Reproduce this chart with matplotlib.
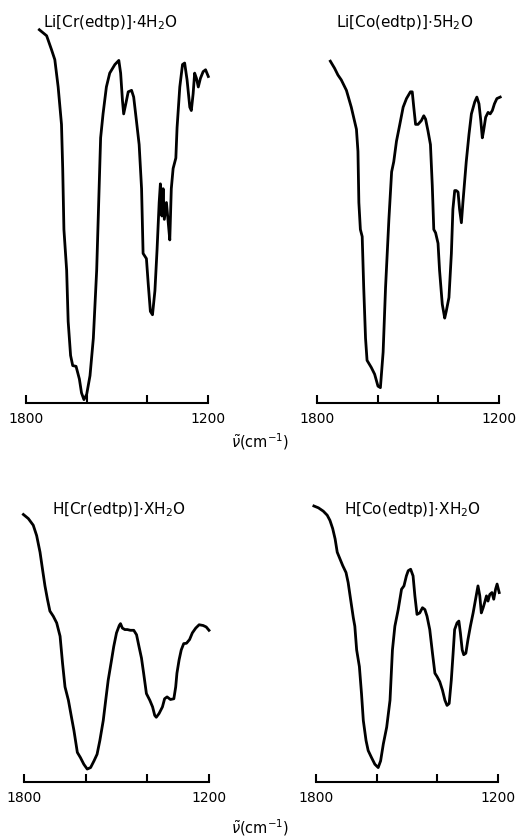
import matplotlib
matplotlib.use("Agg")
import matplotlib.pyplot as plt

# wavenumber (cm-1) and transmittance (arb. %)
li_cr_wn = [1756, 1732, 1716, 1705, 1694, 1683, 1679, 1675, 1666, 1661, 1653, 1646, 1635, 1624,
            1617, 1609, 1600, 1589, 1578, 1567, 1559, 1554, 1546, 1535, 1524, 1507, 1494, 1488,
            1482, 1478, 1471, 1463, 1452, 1445, 1436, 1427, 1419, 1414, 1403, 1397, 1390, 1383,
            1375, 1368, 1361, 1357, 1352, 1348, 1344, 1337, 1332, 1326, 1321, 1315, 1306, 1302,
            1293, 1284, 1277, 1269, 1260, 1255, 1249, 1244, 1238, 1232, 1225, 1216, 1208, 1199]
li_cr_t = [99.8, 98.2, 94.5, 91.8, 84.5, 74.5, 62.7, 46.4, 35.5, 21.8, 12.7, 10.0, 9.8, 6.4,
           2.7, 0.9, 2.3, 7.3, 17.3, 35.5, 57.3, 70.9, 77.3, 84.5, 88.2, 90.5, 91.6, 88.2,
           80.9, 77.3, 80.0, 83.2, 83.6, 81.8, 75.5, 69.1, 57.3, 40.0, 38.6, 31.8, 24.5, 23.6,
           30.0, 40.9, 53.6, 58.6, 50.0, 57.3, 49.1, 53.6, 49.1, 43.6, 57.3, 62.7, 65.5, 73.6,
           84.5, 90.5, 90.9, 86.4, 79.1, 78.2, 82.7, 88.2, 86.8, 84.5, 86.8, 88.6, 89.1, 87.3]

li_co_wn = [1756, 1742, 1731, 1720, 1703, 1687, 1670, 1665, 1662, 1657, 1651, 1646, 1640, 1635,
            1621, 1610, 1599, 1591, 1582, 1574, 1563, 1554, 1547, 1538, 1527, 1516, 1505, 1492,
            1486, 1481, 1475, 1467, 1456, 1448, 1442, 1434, 1426, 1420, 1415, 1409, 1401, 1396,
            1387, 1379, 1374, 1365, 1357, 1352, 1346, 1341, 1335, 1330, 1324, 1319, 1308, 1299,
            1291, 1280, 1273, 1266, 1260, 1255, 1251, 1244, 1236, 1229, 1222, 1215, 1207, 1196]
li_co_t = [91.4, 89.5, 87.7, 86.4, 83.6, 79.1, 73.2, 67.3, 53.6, 46.4, 44.5, 30.9, 17.3, 11.4,
           9.5, 7.7, 4.5, 4.1, 13.6, 30.9, 49.1, 61.8, 64.5, 70.0, 74.5, 79.1, 81.4, 83.2,
           83.2, 79.1, 74.5, 74.5, 75.5, 76.8, 75.9, 72.7, 69.1, 58.2, 46.4, 45.5, 42.7, 35.5,
           26.4, 22.7, 24.5, 28.2, 40.0, 51.8, 56.8, 56.8, 56.4, 51.8, 48.2, 53.6, 64.5, 71.8,
           77.3, 80.5, 81.8, 80.0, 75.5, 70.9, 72.7, 76.4, 77.7, 77.3, 78.2, 80.0, 81.4, 81.8]

h_cr_wn = [1802, 1786, 1770, 1759, 1748, 1740, 1732, 1724, 1716, 1705, 1694, 1683, 1675, 1667,
           1656, 1646, 1638, 1627, 1617, 1606, 1595, 1584, 1573, 1563, 1554, 1543, 1535, 1527,
           1516, 1509, 1500, 1491, 1487, 1481, 1473, 1465, 1455, 1444, 1435, 1427, 1419, 1412,
           1403, 1392, 1383, 1376, 1371, 1362, 1351, 1344, 1336, 1325, 1314, 1308, 1304, 1297,
           1290, 1282, 1273, 1263, 1254, 1243, 1232, 1219, 1209, 1200]
h_cr_t = [72.3, 71.2, 69.4, 66.6, 62.1, 57.5, 53.0, 49.4, 46.2, 44.8, 43.0, 39.4, 32.1, 25.7,
          22.1, 17.5, 13.9, 8.0, 6.6, 4.8, 3.5, 3.9, 5.7, 7.5, 11.2, 16.6, 22.1, 27.5,
          33.0, 36.6, 40.3, 42.3, 42.8, 41.6, 41.2, 41.2, 41.0, 41.0, 39.8, 36.6, 33.5, 29.4,
          23.9, 22.1, 20.3, 18.0, 17.5, 18.5, 20.3, 22.5, 23.0, 22.3, 22.5, 25.7, 29.4, 33.0,
          35.7, 37.4, 37.5, 38.5, 40.3, 41.6, 42.5, 42.3, 41.9, 41.0]

h_co_wn = [1807, 1792, 1776, 1763, 1754, 1745, 1737, 1730, 1721, 1712, 1701, 1694, 1686, 1677,
           1672, 1666, 1657, 1650, 1644, 1635, 1628, 1617, 1606, 1595, 1587, 1578, 1567, 1556,
           1548, 1540, 1529, 1518, 1510, 1502, 1496, 1488, 1480, 1474, 1467, 1458, 1449, 1441,
           1434, 1425, 1416, 1408, 1401, 1392, 1383, 1375, 1368, 1361, 1354, 1348, 1343, 1335,
           1329, 1324, 1318, 1313, 1306, 1299, 1291, 1282, 1275, 1266, 1260, 1255, 1249, 1244,
           1238, 1233, 1227, 1220, 1214, 1208, 1203, 1196]
h_co_t = [74.6, 74.1, 73.2, 72.1, 70.7, 68.5, 65.7, 62.1, 60.3, 58.5, 56.6, 53.9, 49.4, 44.4,
          42.1, 35.7, 31.2, 23.9, 16.6, 11.2, 8.5, 6.6, 4.8, 3.9, 5.7, 10.3, 14.8, 22.1,
          35.7, 42.1, 46.6, 52.1, 53.0, 55.7, 57.1, 57.5, 55.7, 50.3, 45.3, 45.7, 47.1, 46.6,
          44.8, 41.2, 34.8, 29.4, 28.5, 27.1, 24.8, 22.1, 20.7, 21.2, 27.5, 34.8, 41.2, 43.0,
          43.5, 40.3, 35.7, 34.4, 34.8, 38.5, 42.1, 45.7, 48.9, 53.0, 50.3, 45.7, 47.1, 48.5,
          50.3, 48.9, 50.7, 51.2, 49.4, 52.1, 53.5, 51.2]

titles = ["Li[Cr(edtp)]$\\cdot$4H$_2$O", "Li[Co(edtp)]$\\cdot$5H$_2$O",
          "H[Cr(edtp)]$\\cdot$XH$_2$O", "H[Co(edtp)]$\\cdot$XH$_2$O"]
xticks = [1800, 1600, 1400, 1200]
xticklabels = ["1800", "", "", "1200"]

W, H = 520, 837
fig = plt.figure(figsize=(W / 100, H / 100), dpi=100)
fig.patch.set_facecolor("white")

# panel placement in pixels: x at 1800, x at 1200, y of the axis line, height of 0..100
panels = [
    (li_cr_wn, li_cr_t, 26, 208, 404, 374, (43, 22)),
    (li_co_wn, li_co_t, 317, 499, 404, 374, (336, 22)),
    (h_cr_wn, h_cr_t, 24, 209, 783, 370, (52, 510)),
    (h_co_wn, h_co_t, 316, 498, 783, 370, (344, 510)),
]

for (wn, t, x0, x1, ya, span, tpos), title in zip(panels, titles):
    ax = fig.add_axes([x0 / W, 1 - ya / H, (x1 - x0) / W, span / H])
    ax.plot(wn, t, color="black", lw=2.0, clip_on=False, solid_joinstyle="round")
    ax.set_xlim(1800, 1200)
    ax.set_ylim(0, 100)
    for s in ["top", "left", "right"]:
        ax.spines[s].set_visible(False)
    ax.spines["bottom"].set_linewidth(1.5)
    ax.set_yticks([])
    ax.set_xticks(xticks)
    ax.set_xticklabels(xticklabels)
    ax.tick_params(axis="x", direction="in", length=6, width=1.5, pad=6, labelsize=10)
    ax.patch.set_alpha(0)
    fig.text(tpos[0] / W, 1 - tpos[1] / H, title, fontsize=11, ha="left", va="center")

fig.text(260 / W, 1 - 442 / H, r"$\tilde{\nu}$(cm$^{-1}$)", fontsize=10.5, ha="center", va="center")
fig.text(260 / W, 1 - 828 / H, r"$\tilde{\nu}$(cm$^{-1}$)", fontsize=10.5, ha="center", va="center")

fig.savefig("out.png", dpi=100)
